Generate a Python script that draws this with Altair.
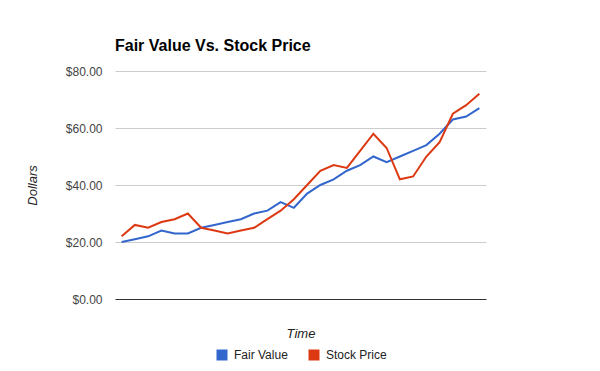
import altair as alt
import pandas as pd

time_idx = list(range(28))
fair_value = [20, 21, 22, 24, 23, 23, 25, 26, 27, 28, 30, 31, 34, 32,
              37, 40, 42, 45, 47, 50, 48, 50, 52, 54, 58, 63, 64, 67]
stock_price = [22, 26, 25, 27, 28, 30, 25, 24, 23, 24, 25, 28, 31, 35,
               40, 45, 47, 46, 52, 58, 53, 42, 43, 50, 55, 65, 68, 72]
series_names = ["Fair Value", "Stock Price"]
series_colors = ["#3366cc", "#dc3912"]

rows = []
for t, fv, sp in zip(time_idx, fair_value, stock_price):
    rows.append({"t": t, "series": series_names[0], "value": fv})
    rows.append({"t": t, "series": series_names[1], "value": sp})
df = pd.DataFrame(rows)

FONT = "Liberation Sans"

chart = alt.Chart(df).mark_line(strokeWidth=2).encode(
    x=alt.X("t:Q", scale=alt.Scale(domain=[-0.5, 27.5], nice=False, zero=False),
            axis=alt.Axis(title="Time", labels=False, ticks=False, grid=False,
                          domain=True, domainColor="#333333", domainWidth=1,
                          titleFont=FONT, titleFontSize=13, titleFontStyle="italic",
                          titleFontWeight="normal", titleColor="#222222",
                          titlePadding=28)),
    y=alt.Y("value:Q", scale=alt.Scale(domain=[0, 80], nice=False),
            axis=alt.Axis(title="Dollars", format="$.2f", values=[0, 20, 40, 60, 80],
                          ticks=False, domain=False, grid=True, gridColor="#cccccc",
                          labelFont=FONT, labelFontSize=12, labelColor="#444444",
                          labelPadding=13,
                          titleFont=FONT, titleFontSize=13, titleFontStyle="italic",
                          titleFontWeight="normal", titleColor="#222222",
                          titlePadding=26)),
    color=alt.Color("series:N", scale=alt.Scale(domain=series_names, range=series_colors),
                    legend=alt.Legend(title=None, orient="none", direction="horizontal",
                                      legendX=101, legendY=278,
                                      symbolType="square", symbolSize=4,
                                      symbolStrokeWidth=9, symbolOpacity=1,
                                      labelFont=FONT, labelFontSize=12,
                                      labelColor="#222222", columnPadding=7,
                                      labelOffset=6)),
).properties(
    width=371,
    height=228,
    title=alt.TitleParams("Fair Value Vs. Stock Price", anchor="start", frame="group",
                          font=FONT, fontSize=16, fontWeight="bold", color="#000000",
                          offset=11),
    padding={"left": 107, "top": 63, "right": 106, "bottom": 64},
    autosize=alt.AutoSizeParams(type="none"),
).configure_view(stroke=None)

chart.save("out.html", embed_options={"renderer": "svg", "actions": False})
